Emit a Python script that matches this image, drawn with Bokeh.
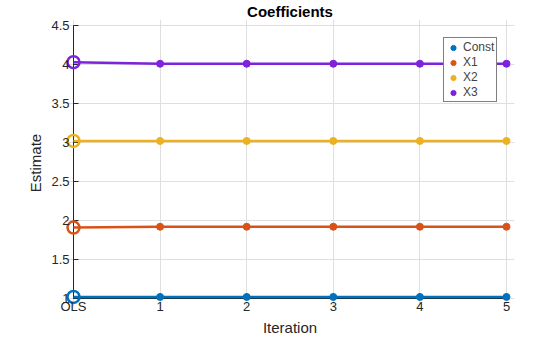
from bokeh.plotting import figure
from bokeh.embed import file_html
from bokeh.resources import INLINE
from bokeh.models import Legend, LegendItem, FixedTicker, Range1d

iterations = [0, 1, 2, 3, 4, 5]
x_tick_labels = ["OLS", "1", "2", "3", "4", "5"]
series_names = ["Const", "X1", "X2", "X3"]
const_vals = [1.02, 1.02, 1.02, 1.02, 1.02, 1.02]
x1_vals = [1.91, 1.92, 1.92, 1.92, 1.92, 1.92]
x2_vals = [3.02, 3.02, 3.02, 3.02, 3.02, 3.02]
x3_vals = [4.03, 4.01, 4.01, 4.01, 4.01, 4.01]
colors = ["#0072BD", "#D95319", "#EDB120", "#7E22DB"]
y_ticks = [1, 1.5, 2, 2.5, 3, 3.5, 4, 4.5]

FONT = "Liberation Sans"
XMIN, XMAX, YMIN, YMAX = 0, 5, 1, 4.5
PXX, PXY = 433 / 5, 273 / 3.5          # pixels per data unit
AX = "#262626"

p = figure(frame_width=449, frame_height=287, output_backend="svg", toolbar_location=None,
           x_range=Range1d(XMIN - 8 / PXX, XMAX + 8 / PXX),
           y_range=Range1d(YMIN - 8 / PXY, YMAX + 6 / PXY),
           min_border_left=65, min_border_right=46, min_border_top=19, min_border_bottom=31)
p.outline_line_color = None
p.background_fill_color = "white"
p.border_fill_color = "white"

p.title.text = "Coefficients"
p.title.align = "center"
p.title.text_font = FONT
p.title.text_font_size = "15px"
p.title.text_font_style = "bold"
p.title.text_color = "#000000"
p.title.standoff = 0
p.title.offset = 0

p.xgrid.ticker = FixedTicker(ticks=iterations)
p.xgrid.bounds = (YMIN, YMAX)
p.ygrid.ticker = FixedTicker(ticks=y_ticks)
p.ygrid.bounds = (XMIN, XMAX)
p.grid.grid_line_color = "#dfdfdf"
p.grid.grid_line_width = 1

# axis lines and inward ticks drawn at the data origin
p.segment(x0=[XMIN, XMIN], y0=[YMIN, YMIN], x1=[XMIN, XMAX], y1=[YMAX, YMIN],
          line_color=AX, line_width=1)
p.segment(x0=[XMIN] * len(y_ticks), y0=y_ticks, x1=[XMIN + 5 / PXX] * len(y_ticks), y1=y_ticks,
          line_color=AX, line_width=1)
p.segment(x0=iterations, y0=[YMIN] * len(iterations), x1=iterations,
          y1=[YMIN + 5 / PXY] * len(iterations), line_color=AX, line_width=1)

items = []
all_vals = [const_vals, x1_vals, x2_vals, x3_vals]
for name, vals, c in zip(series_names, all_vals, colors):
    p.line(iterations, vals, line_color=c, line_width=2.5)
    dots = p.scatter(iterations[1:], vals[1:], size=7, fill_color=c, line_color=c)
    p.scatter(iterations[:1], vals[:1], size=12, fill_color=None, line_color=c, line_width=2.5)
    items.append(LegendItem(label=name, renderers=[dots]))

legend = Legend(items=items, location=(378, 204), border_line_color="black",
                border_line_width=1, background_fill_color="white", background_fill_alpha=1,
                label_text_font=FONT, label_text_font_size="12px", label_height=13,
                glyph_height=13, glyph_width=14, spacing=1, padding=2, margin=0,
                label_standoff=3, label_text_line_height=1.0)
p.add_layout(legend)

for ax in (p.xaxis[0], p.yaxis[0]):
    ax.axis_line_color = None
    ax.major_tick_line_color = None
    ax.minor_tick_line_color = None
    ax.major_tick_in = 0
    ax.major_tick_out = 0
    ax.major_label_text_font = FONT
    ax.major_label_text_font_size = "13px"
    ax.major_label_text_color = AX
    ax.axis_label_text_font = FONT
    ax.axis_label_text_font_size = "15px"
    ax.axis_label_text_font_style = "normal"
    ax.axis_label_text_color = AX

p.xaxis.ticker = FixedTicker(ticks=iterations)
p.xaxis.major_label_overrides = {i: l for i, l in zip(iterations, x_tick_labels)}
p.xaxis.axis_label = "Iteration"
p.xaxis.major_label_standoff = -8
p.xaxis.axis_label_standoff = 2
p.yaxis.ticker = FixedTicker(ticks=y_ticks)
p.yaxis.major_label_overrides = {t: ("%g" % t) for t in y_ticks}
p.yaxis.axis_label = "Estimate"
p.yaxis.major_label_standoff = -4
p.yaxis.axis_label_standoff = 4

open("out.html", "w").write(file_html(p, INLINE))
